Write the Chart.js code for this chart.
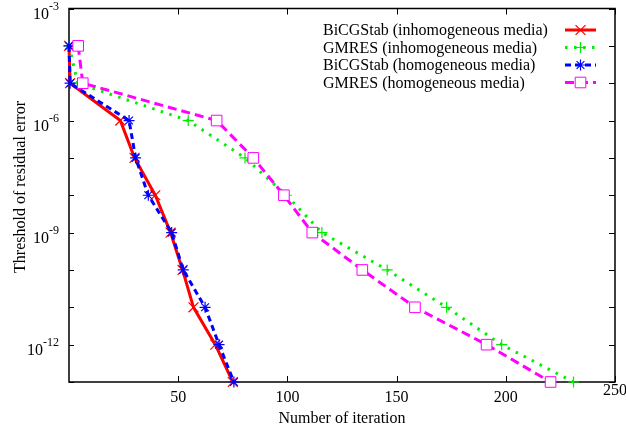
<!DOCTYPE html>
<html>
<head>
<meta charset="utf-8">
<script src="https://cdn.jsdelivr.net/npm/chart.js@4/dist/chart.umd.min.js"></script>
<style>
  html, body { margin: 0; padding: 0; background: #fff; }
  #wrap { width: 626px; height: 432px; }
</style>
</head>
<body>
<div id="wrap"><canvas id="chart" width="626" height="432"></canvas></div>
<script>
// thresholds of residual error (y) and the iteration count reached for each (x)
const thresholds = [1e-4, 1e-5, 1e-6, 1e-7, 1e-8, 1e-9, 1e-10, 1e-11, 1e-12, 1e-13];
const bicgInhomIters = [0, 0.5, 23.5, 30, 39.5, 46.5, 52, 57, 67, 75];
const gmresInhomIters = [0, 4, 54.6, 80.6, 99.5, 115.8, 145.7, 172.9, 198.1, 231];
const bicgHomIters = [0, 0.5, 27.5, 30.5, 36.3, 47, 52.3, 62.3, 68.7, 75.5];
const gmresHomIters = [4.2, 6.3, 67.6, 84.4, 98.4, 111.4, 134.3, 158.4, 191.2, 220.5];

const seriesNames = [
  'BiCGStab (inhomogeneous media)',
  'GMRES (inhomogeneous media)',
  'BiCGStab (homogeneous media)',
  'GMRES (homogeneous media)',
];

const xTickValues = [50, 100, 150, 200, 250];
const yTickExponents = [-3, -6, -9, -12];
const xTitle = 'Number of iteration';
const yTitle = 'Threshold of residual error';

const FONT = '"Liberation Serif", "Times New Roman", serif';

const toPoints = (iters) => iters.map((x, i) => ({ x, y: thresholds[i] }));

function drawMarker(ctx, ds, x, y) {
  ctx.save();
  ctx.setLineDash([]);
  ctx.strokeStyle = ds.pointBorderColor;
  ctx.fillStyle = ds.pointBackgroundColor;
  ctx.lineWidth = ds.pointBorderWidth;
  Chart.helpers.drawPoint(ctx, {
    pointStyle: ds.pointStyle, radius: ds.pointRadius, borderWidth: ds.pointBorderWidth, rotation: 0,
  }, x, y);
  ctx.restore();
}

// gnuplot-like frame, inward ticks, labels and key
const gnuplotFrame = {
  id: 'gnuplotFrame',
  beforeDatasetsDraw(chart) {
    const { ctx, chartArea: a, scales } = chart;
    ctx.save();
    ctx.strokeStyle = '#000';
    ctx.lineWidth = 1.5;
    ctx.strokeRect(a.left, a.top, a.right - a.left, a.bottom - a.top);
    ctx.lineWidth = 1;
    ctx.beginPath();
    xTickValues.forEach((v) => {
      const px = Math.round(scales.x.getPixelForValue(v)) + 0.5;
      ctx.moveTo(px, a.bottom); ctx.lineTo(px, a.bottom - 6);
      ctx.moveTo(px, a.top); ctx.lineTo(px, a.top + 6);
    });
    for (let e = -13; e <= -3; e++) {
      const py = Math.round(scales.y.getPixelForValue(Math.pow(10, e))) + 0.5;
      ctx.moveTo(a.left, py); ctx.lineTo(a.left + 5, py);
      ctx.moveTo(a.right, py); ctx.lineTo(a.right - 6, py);
    }
    ctx.stroke();
    ctx.restore();
  },
  afterDraw(chart) {
    const { ctx, chartArea: a, scales } = chart;
    ctx.save();
    ctx.fillStyle = '#000';

    // x tick labels
    ctx.font = '16px ' + FONT;
    ctx.textAlign = 'center';
    ctx.textBaseline = 'alphabetic';
    xTickValues.forEach((v) => {
      const px = scales.x.getPixelForValue(v);
      const base = v === 250 ? a.bottom + 13 : a.bottom + 20;
      ctx.fillText(String(v), px, base);
    });

    // y tick labels 10^e (top one kept inside the page)
    yTickExponents.forEach((e) => {
      const py = Math.max(scales.y.getPixelForValue(Math.pow(10, e)), 7);
      ctx.font = '12px ' + FONT;
      const expText = String(e);
      const ew = ctx.measureText(expText).width;
      ctx.textAlign = 'left';
      const right = a.left - 10;
      ctx.fillText(expText, right - ew, py + 1);
      ctx.font = '16px ' + FONT;
      ctx.textAlign = 'right';
      ctx.fillText('10', right - ew, py + 10);
    });

    // axis titles
    ctx.font = '16px ' + FONT;
    ctx.textAlign = 'center';
    ctx.fillText(xTitle, 342, 423);
    ctx.save();
    ctx.translate(25, 187);
    ctx.rotate(-Math.PI / 2);
    ctx.fillText(yTitle, 0, 0);
    ctx.restore();

    // key
    const rows = [30, 47.5, 65, 82.5];
    chart.data.datasets.forEach((ds, i) => {
      const y = rows[i];
      ctx.font = '16px ' + FONT;
      ctx.textAlign = 'left';
      ctx.textBaseline = 'middle';
      ctx.fillStyle = '#000';
      ctx.fillText(ds.label, 323, y + 1);
      ctx.save();
      ctx.strokeStyle = ds.borderColor;
      ctx.lineWidth = ds.borderWidth;
      ctx.setLineDash(ds.borderDash || []);
      ctx.beginPath();
      ctx.moveTo(565, y); ctx.lineTo(596, y);
      ctx.stroke();
      ctx.restore();
      drawMarker(ctx, ds, 580.5, y);
    });
    ctx.restore();
  },
};

const datasets = [
  {
    label: seriesNames[0], data: toPoints(bicgInhomIters),
    borderColor: '#ff0000', borderWidth: 3, borderDash: [],
    pointStyle: 'crossRot', pointRadius: 7, pointBorderWidth: 1.2,
    pointBorderColor: '#ff0000', pointBackgroundColor: '#ff0000', order: 3,
  },
  {
    label: seriesNames[1], data: toPoints(gmresInhomIters),
    borderColor: '#00ee00', borderWidth: 3, borderDash: [2.5, 6.5],
    pointStyle: 'cross', pointRadius: 5.5, pointBorderWidth: 1.2,
    pointBorderColor: '#00ee00', pointBackgroundColor: '#00ee00', order: 2,
  },
  {
    label: seriesNames[2], data: toPoints(bicgHomIters),
    borderColor: '#0000ff', borderWidth: 3, borderDash: [6, 4],
    pointStyle: 'star', pointRadius: 5.5, pointBorderWidth: 1.2,
    pointBorderColor: '#0000ff', pointBackgroundColor: '#0000ff', order: 1,
  },
  {
    label: seriesNames[3], data: toPoints(gmresHomIters),
    borderColor: '#ff00ff', borderWidth: 3, borderDash: [9, 5],
    pointStyle: 'rect', pointRadius: 7.5, pointBorderWidth: 1,
    pointBorderColor: '#ff00ff', pointBackgroundColor: '#ffffff', order: 0,
  },
].map((d) => ({ ...d, fill: false, tension: 0, clip: false, borderCapStyle: 'butt', pointHoverRadius: d.pointRadius }));

new Chart(document.getElementById('chart'), {
  type: 'line',
  data: { datasets },
  options: {
    responsive: false,
    animation: false,
    devicePixelRatio: 1,
    layout: { padding: { left: 69, right: 11, top: 4, bottom: 50 } },
    plugins: { legend: { display: false }, tooltip: { enabled: false } },
    scales: {
      x: { type: 'linear', min: 0, max: 250, display: false },
      y: { type: 'logarithmic', min: 1e-13, max: 1e-3, display: false },
    },
  },
  plugins: [gnuplotFrame],
});
</script>
</body>
</html>
